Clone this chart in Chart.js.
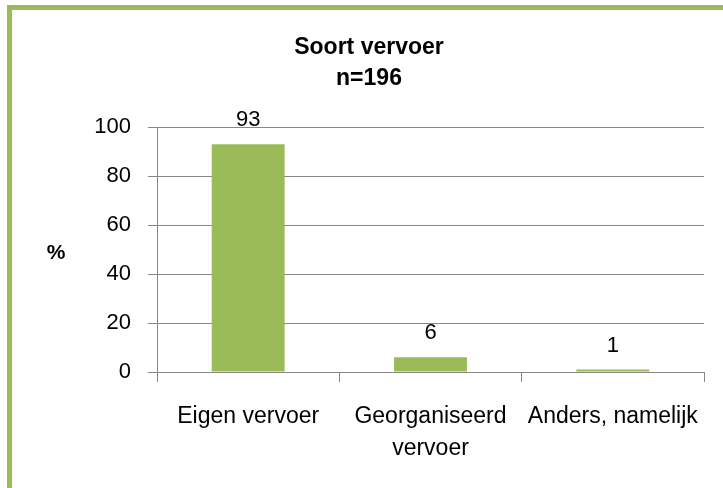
<!DOCTYPE html>
<html>
<head>
<meta charset="utf-8">
<script src="https://cdn.jsdelivr.net/npm/chart.js@4.4.1/dist/chart.umd.min.js"></script>
<style>
  html, body { margin: 0; padding: 0; background: #fff; }
  #frame {
    position: absolute; left: 7px; top: 5px; width: 800px; height: 600px;
    border-top: 5px solid #9bbb59; border-left: 5px solid #9bbb59;
  }
  #wrap { position: absolute; left: 0; top: 0; width: 723px; height: 488px; }
</style>
</head>
<body>
<div id="frame"></div>
<div id="wrap"><canvas id="myChart" width="723" height="488"></canvas></div>
<script>
const categories = ["Eigen vervoer", ["Georganiseerd", "vervoer"], "Anders, namelijk"];
const percentages = [93, 6, 1];
const yTicks = [0, 20, 40, 60, 80, 100];
const titleLines = ["Soort vervoer", "n=196"];
const yTitle = "%";

const FONT = "'Liberation Sans', Arial, sans-serif";

// titel, as-label en waardelabels
const extraText = {
    id: 'extraText',
    afterDatasetsDraw(chart) {
        const ctx = chart.ctx;
        ctx.save();
        ctx.fillStyle = '#000';
        ctx.textAlign = 'center';
        ctx.textBaseline = 'alphabetic';

        ctx.font = "bold 23px " + FONT;
        const cx = (chart.width + 15) / 2;
        ctx.fillText(titleLines[0], cx, 54);
        ctx.fillText(titleLines[1], cx, 85);

        ctx.font = "bold 21px " + FONT;
        ctx.fillText(yTitle, 56, 259);

        ctx.font = "22px " + FONT;
        const meta = chart.getDatasetMeta(0);
        meta.data.forEach((bar, i) => {
            ctx.fillText(String(percentages[i]), bar.x, bar.y - 18);
        });
        ctx.restore();
    }
};

const ctx = document.getElementById('myChart');
new Chart(ctx, {
    type: 'bar',
    data: {
        labels: categories,
        datasets: [{
            data: percentages,
            backgroundColor: '#9bbb59',
            borderWidth: 0,
            barPercentage: 0.4,
            categoryPercentage: 1.0
        }]
    },
    options: {
        responsive: false,
        animation: false,
        layout: { padding: { top: 127, right: 19, left: 0, bottom: 0 } },
        plugins: {
            legend: { display: false },
            title: { display: false },
            tooltip: { enabled: false }
        },
        scales: {
            x: {
                afterFit(scale) { scale.height = 116; },
                grid: {
                    offset: true,
                    drawOnChartArea: false,
                    tickLength: 10,
                    color: '#868686'
                },
                border: { color: '#868686', width: 1 },
                ticks: {
                    autoSkip: false,
                    maxRotation: 0,
                    padding: 19,
                    color: '#000',
                    font: { family: FONT, size: 23, lineHeight: 1.38 }
                }
            },
            y: {
                min: 0,
                max: 100,
                afterFit(scale) { scale.width = 157; },
                afterBuildTicks(scale) { scale.ticks = yTicks.map(v => ({ value: v })); },
                grid: { color: '#868686', tickLength: 9 },
                border: { color: '#868686', width: 1 },
                ticks: {
                    padding: 17,
                    color: '#000',
                    font: { family: FONT, size: 22 }
                }
            }
        }
    },
    plugins: [extraText]
});
</script>
</body>
</html>
